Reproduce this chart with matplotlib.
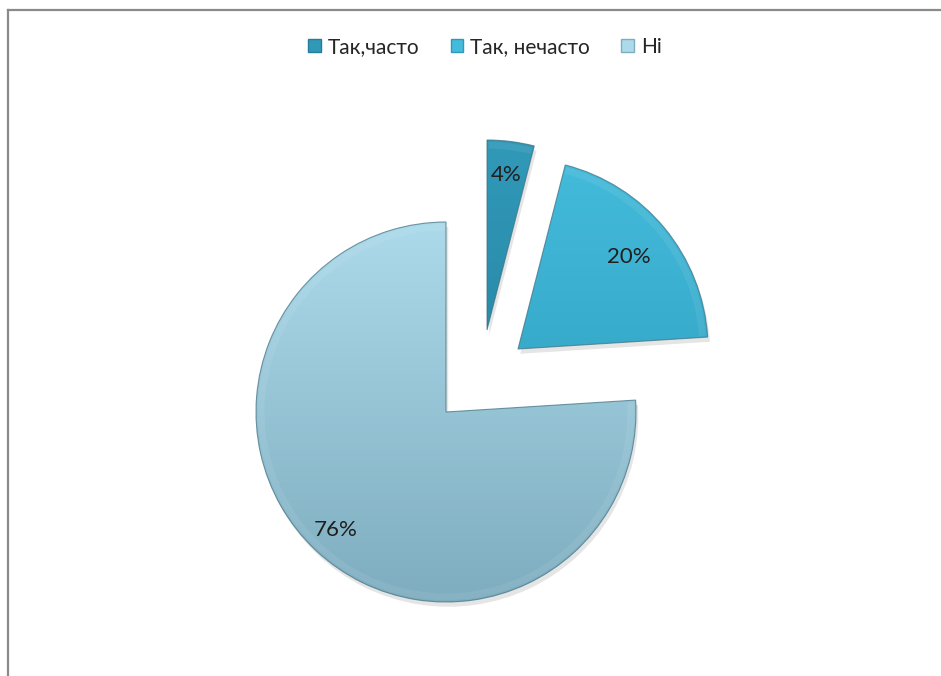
import numpy as np
import matplotlib
matplotlib.use("Agg")
import matplotlib.pyplot as plt
from matplotlib.colors import LinearSegmentedColormap
from matplotlib.lines import Line2D
from matplotlib.patches import Rectangle, Wedge

# data
categories = ["Так,часто", "Так, нечасто", "Ні"]
values = [4, 20, 76]
pct_labels = ["4%", "20%", "76%"]

# style
top_colors = ["#3199b8", "#44bbdb", "#acdaeb"]
bottom_colors = ["#237d9c", "#2c9bbb", "#7eadbf"]
plt.rcParams["font.family"] = ["Lato", "DejaVu Sans"]

W, H = 941, 676
cx, cy, R = 446, 412, 190  # pie centre and radius in pixels
fig = plt.figure(figsize=(W / 100, H / 100), dpi=100)
ax = fig.add_axes([0, 0, 1, 1])
xlim = (-cx / R, (W - cx) / R)
ylim = (-(H - cy) / R, cy / R)

wedges, _ = ax.pie(values, startangle=90, counterclock=False, radius=1,
                   wedgeprops=dict(linewidth=0))

# exploded slices: shift centres (pixels from pie centre)
shifts = [(41, 82), (72, 63), (0, 0)]
label_dist = [0.82, 0.76, 0.85]

for i, w in enumerate(wedges):
    c = (shifts[i][0] / R, shifts[i][1] / R)
    w.set_center(c)
    w.set_facecolor("none")
    # soft shadow
    ax.add_patch(Wedge((c[0] + 0.012, c[1] - 0.025), 1, w.theta1, w.theta2,
                       facecolor="#000000", alpha=0.10, linewidth=0, zorder=0.5))
    # vertical gradient clipped to the slice
    cmap = LinearSegmentedColormap.from_list("g%d" % i, [bottom_colors[i], top_colors[i]])
    grad = np.linspace(0, 1, 256).reshape(-1, 1)
    im = ax.imshow(grad, cmap=cmap, origin="lower", aspect="auto",
                   extent=(c[0] - 1, c[0] + 1, c[1] - 1, c[1] + 1), zorder=1)
    im.set_clip_path(w)
    # bevel edge
    ax.add_patch(Wedge(c, 1, w.theta1, w.theta2, facecolor="none",
                       edgecolor="#3d6f80", linewidth=0.8, alpha=0.7, zorder=2))
    ax.add_patch(Wedge(c, 0.99, w.theta1 + 0.5, w.theta2 - 0.5, width=0.035,
                       facecolor="white", alpha=0.07, linewidth=0, zorder=1.5))
    mid = np.deg2rad((w.theta1 + w.theta2) / 2)
    ax.text(c[0] + label_dist[i] * np.cos(mid), c[1] + label_dist[i] * np.sin(mid),
            pct_labels[i], ha="center", va="center", fontsize=16, color="#1f1f1f", zorder=3)

ax.set_xlim(xlim)
ax.set_ylim(ylim)
ax.set_aspect("auto")
ax.axis("off")

# legend
handles = [Rectangle((0, 0), 1, 1, facecolor=top_colors[i], edgecolor=bottom_colors[i])
           for i in range(len(categories))]
fig.legend(handles, categories, loc="center", bbox_to_anchor=(485 / W, 1 - 47 / H),
           ncol=3, frameon=False, fontsize=15, handlelength=0.6, handleheight=0.6,
           handletextpad=0.35, columnspacing=1.5, labelcolor="#262626")

# chart frame (left and top edges visible)
fig.add_artist(Line2D([7.5 / W, 7.5 / W], [0, 1 - 10 / H], transform=fig.transFigure,
                      color="#8a8a8a", linewidth=1.6))
fig.add_artist(Line2D([7.5 / W, 1], [1 - 10 / H, 1 - 10 / H], transform=fig.transFigure,
                      color="#8a8a8a", linewidth=1.6))

fig.savefig("out.png", dpi=100, facecolor="white")
